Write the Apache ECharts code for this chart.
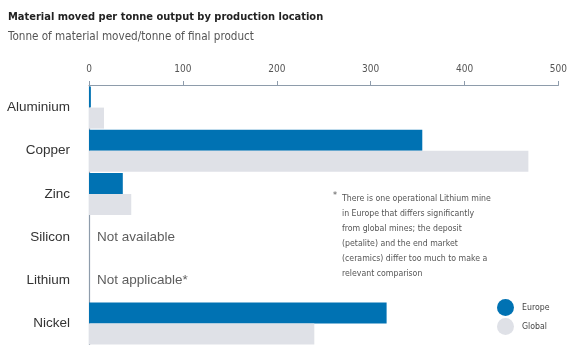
<!DOCTYPE html>
<html>
<head>
<meta charset="utf-8">
<script src="https://cdn.jsdelivr.net/npm/echarts@6/dist/echarts.min.js"></script>
<style>
  html, body { margin: 0; padding: 0; background: #ffffff; }
  #chart { width: 570px; height: 345px; }
</style>
</head>
<body>
<div id="chart"></div>
<script>
// Tonnes of material moved per tonne of final product
const materials = ['Aluminium', 'Copper', 'Zinc', 'Silicon', 'Lithium', 'Nickel'];
const europe = [2, 355, 36, null, null, 317];
const globalValues = [16, 468, 45, null, null, 240];
const xTicks = { min: 0, max: 500, interval: 100 };
const notes = [
  { material: 'Silicon', text: 'Not available' },
  { material: 'Lithium', text: 'Not applicable*' }
];
const footnote = [
  'There is one operational Lithium mine',
  'in Europe that differs significantly',
  'from global mines; the deposit',
  '(petalite) and the end market',
  '(ceramics) differ too much to make a',
  'relevant comparison'
];

const condensed = '"DejaVu Sans Condensed", "Liberation Sans Narrow", sans-serif';
const regular = '"Liberation Sans", Arial, sans-serif';
const axisColor = '#8e9cab';

const chart = echarts.init(document.getElementById('chart'), null, { renderer: 'canvas' });

chart.setOption({
  animation: false,
  backgroundColor: '#ffffff',
  title: {
    text: 'Material moved per tonne output by production location',
    subtext: 'Tonne of material moved/tonne of final product',
    left: 8,
    top: 11,
    padding: 0,
    itemGap: 6,
    textStyle: { fontFamily: condensed, fontSize: 11, fontWeight: 'bold', color: '#222222', lineHeight: 13 },
    subtextStyle: { fontFamily: condensed, fontSize: 11.6, color: '#555555', lineHeight: 14 }
  },
  legend: {
    orient: 'vertical',
    left: 497,
    top: 299,
    padding: 0,
    itemWidth: 17,
    itemHeight: 17,
    itemGap: 2,
    icon: 'circle',
    data: ['Europe', 'Global'],
    textStyle: { fontFamily: condensed, fontSize: 8.7, color: '#444444', padding: [0, 0, 0, 3] }
  },
  grid: { left: 89, right: 10, top: 86, height: 259, containLabel: false },
  xAxis: {
    type: 'value',
    position: 'top',
    offset: 1,
    min: xTicks.min,
    max: xTicks.max,
    interval: xTicks.interval,
    axisLine: { show: true, lineStyle: { color: axisColor, width: 1.2 } },
    axisTick: { show: true, length: 4, lineStyle: { color: axisColor } },
    splitLine: { show: false },
    axisLabel: { fontFamily: condensed, fontSize: 10, color: '#555555', margin: 11 }
  },
  yAxis: {
    type: 'category',
    inverse: true,
    data: materials,
    axisLine: { show: true, lineStyle: { color: axisColor, width: 1.2 } },
    axisTick: { show: false },
    axisLabel: { fontFamily: regular, fontSize: 13.5, color: '#333333', margin: 19 }
  },
  series: [
    {
      name: 'Europe',
      type: 'bar',
      data: europe,
      barWidth: 21,
      barGap: '0%',
      itemStyle: { color: '#0072b3' }
    },
    {
      name: 'Global',
      type: 'bar',
      data: globalValues,
      barWidth: 21,
      barGap: '0%',
      itemStyle: { color: '#dfe1e7' }
    },
    {
      name: 'notes',
      type: 'scatter',
      symbolSize: 0,
      silent: true,
      data: notes.map(n => ({ value: [0, n.material], label: { formatter: n.text } })),
      label: {
        show: true,
        position: 'right',
        distance: 8,
        fontFamily: regular,
        fontSize: 13.5,
        color: '#333333'
      }
    }
  ],
  graphic: [
    {
      type: 'text',
      left: 333,
      top: 191,
      style: { text: '*', fontFamily: condensed, fontSize: 9, fill: '#555555' }
    },
    {
      type: 'text',
      left: 342,
      top: 191,
      style: {
        text: footnote.join('\n'),
        fontFamily: condensed,
        fontSize: 8.7,
        lineHeight: 15,
        fill: '#555555'
      }
    }
  ]
});
</script>
</body>
</html>
